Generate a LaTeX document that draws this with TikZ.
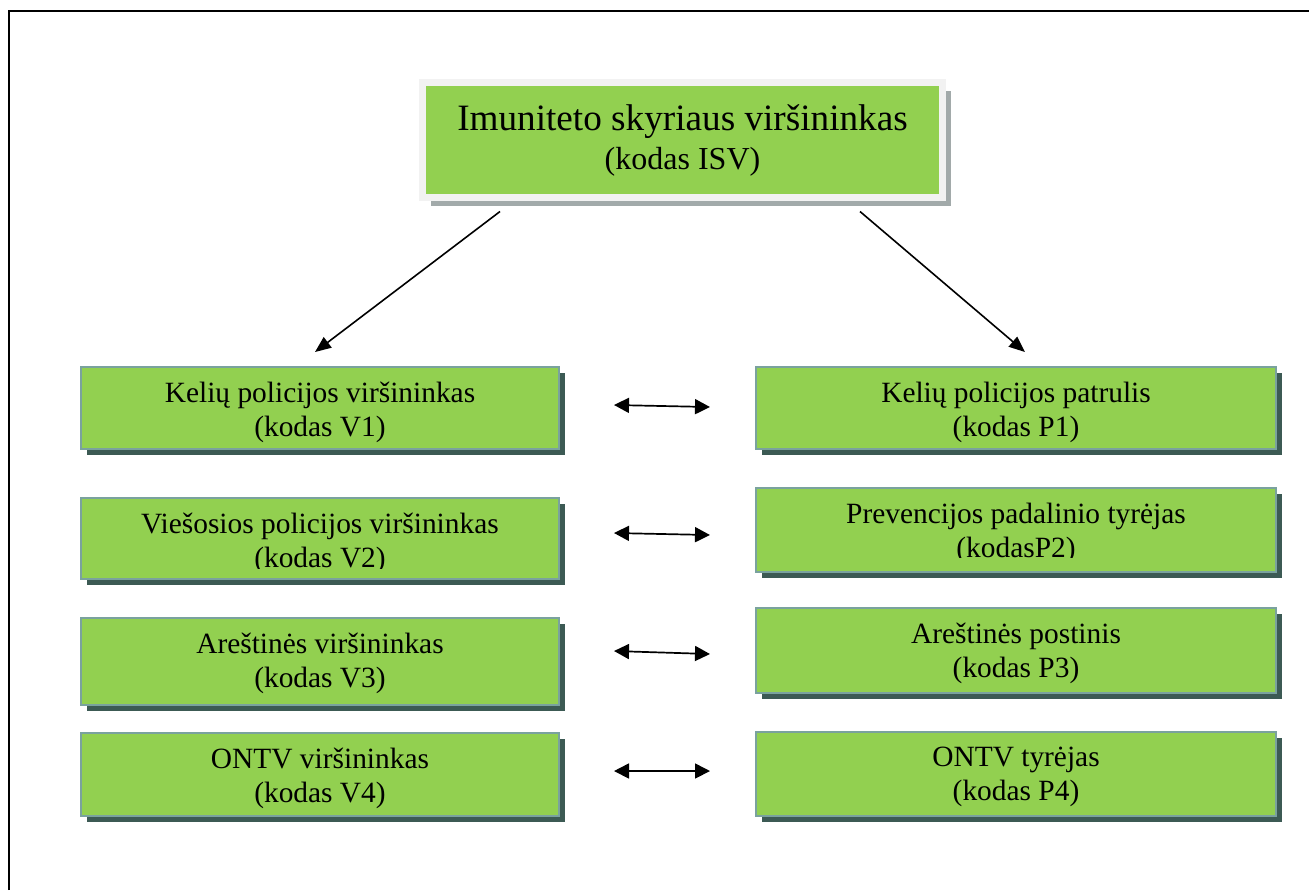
\documentclass[tikz,border=0pt]{standalone}
\usepackage{fontspec}
\setmainfont{Liberation Serif}
\usetikzlibrary{positioning,calc,shadows,arrows.meta}
\definecolor{boxgreen}{RGB}{146,208,80}
\definecolor{boxedge}{RGB}{122,162,158}
\definecolor{boxshadow}{RGB}{60,90,84}
\definecolor{headframe}{RGB}{242,242,242}
\definecolor{headshadow}{RGB}{162,170,170}
\tikzset{
  post/.style={rectangle, draw=boxedge, line width=1pt, fill=boxgreen, inner sep=0pt,
    drop shadow={shadow xshift=2.75pt, shadow yshift=-3pt, fill=boxshadow, opacity=1}},
  leftpost/.style={post, minimum width=239pt},
  rightpost/.style={post, minimum width=260pt},
  posttext/.style={anchor=north, inner sep=0pt, align=center, font=\fontsize{14.7}{17}\selectfont},
  link/.style={line width=0.8pt, -{Triangle[length=8pt,width=6.5pt]}},
  pair/.style={line width=0.85pt, {Triangle[length=7.5pt,width=7.5pt]}-{Triangle[length=7.5pt,width=7.5pt]}}
}
\begin{document}
\begin{tikzpicture}[x=0.5pt,y=-0.5pt]
    \useasboundingbox (0,0) rectangle (1309,890);

    % frame
    \draw[line width=1.25pt] (9,890) -- (9,11) -- (1309,11);

    % head
    \node [draw=headframe, line width=3.5pt, fill=boxgreen, minimum width=260pt, minimum height=57.5pt,
           inner sep=0pt, align=center, font=\fontsize{16}{19.5}\selectfont,
           drop shadow={shadow xshift=4pt, shadow yshift=-4pt, fill=headshadow, opacity=1}]
           (isv) at (682.5,140) {{\fontsize{18.6}{19.5}\selectfont Imuniteto skyriaus viršininkas}\\(kodas ISV)};

    % chiefs (left)
    \node [leftpost, minimum height=41pt] (v1) at (320,408) {};
    \node [leftpost, minimum height=40.5pt] (v2) at (320,538.5) {};
    \node [leftpost, minimum height=43.5pt] (v3) at (320,661.5) {};
    \node [leftpost, minimum height=41.5pt] (v4) at (320,774.5) {};

    % officers (right)
    \node [rightpost, minimum height=41pt] (p1) at (1016,408) {};
    \node [rightpost, minimum height=42pt] (p2) at (1016,530) {};
    \node [rightpost, minimum height=42.5pt] (p3) at (1016,650.5) {};
    \node [rightpost, minimum height=42pt] (p4) at (1016,774) {};

    \node [posttext, below=7.75pt of v1.north] (v1t) {Kelių policijos viršininkas\\(kodas V1)};
    \begin{scope}
      \clip (v2.north west) rectangle ($(v2.south east)+(0,-12)$);
      \node [posttext, below=7.75pt of v2.north] (v2t) {Viešosios policijos viršininkas\\(kodas V2)};
    \end{scope}
    \node [posttext, below=7.75pt of v3.north] (v3t) {Areštinės viršininkas\\(kodas V3)};
    \node [posttext, below=7.75pt of v4.north] (v4t) {ONTV viršininkas\\(kodas V4)};

    \node [posttext, below=7.75pt of p1.north] (p1t) {Kelių policijos patrulis\\(kodas P1)};
    \begin{scope}
      \clip (p2.north west) rectangle ($(p2.south east)+(0,-16)$);
      \node [posttext, below=7.75pt of p2.north] (p2t) {Prevencijos padalinio tyrėjas\\(kodasP2)};
    \end{scope}
    \node [posttext, below=7.75pt of p3.north] (p3t) {Areštinės postinis\\(kodas P3)};
    \node [posttext, below=7.75pt of p4.north] (p4t) {ONTV tyrėjas\\(kodas P4)};

    % links
    \draw[link] ($(isv.south)+(-182.5,10.5)$) -- ($(v1.north)+(-5,-14)$);
    \draw[link] ($(isv.south)+(177.5,10.5)$) -- ($(p1.north)+(9,-14)$);

    \draw[pair] ($(v1.east)+(54,-3)$) -- ($(p1.west)+(-45,-1)$);
    \draw[pair] ($(v2.east)+(54,-5.5)$) -- ($(p2.west)+(-45,5)$);
    \draw[pair] ($(v3.east)+(54,-10.5)$) -- ($(p3.west)+(-45,3.5)$);
    \draw[pair] ($(v4.east)+(54,-3.5)$) -- ($(p4.west)+(-45,-3)$);
\end{tikzpicture}
\end{document}
